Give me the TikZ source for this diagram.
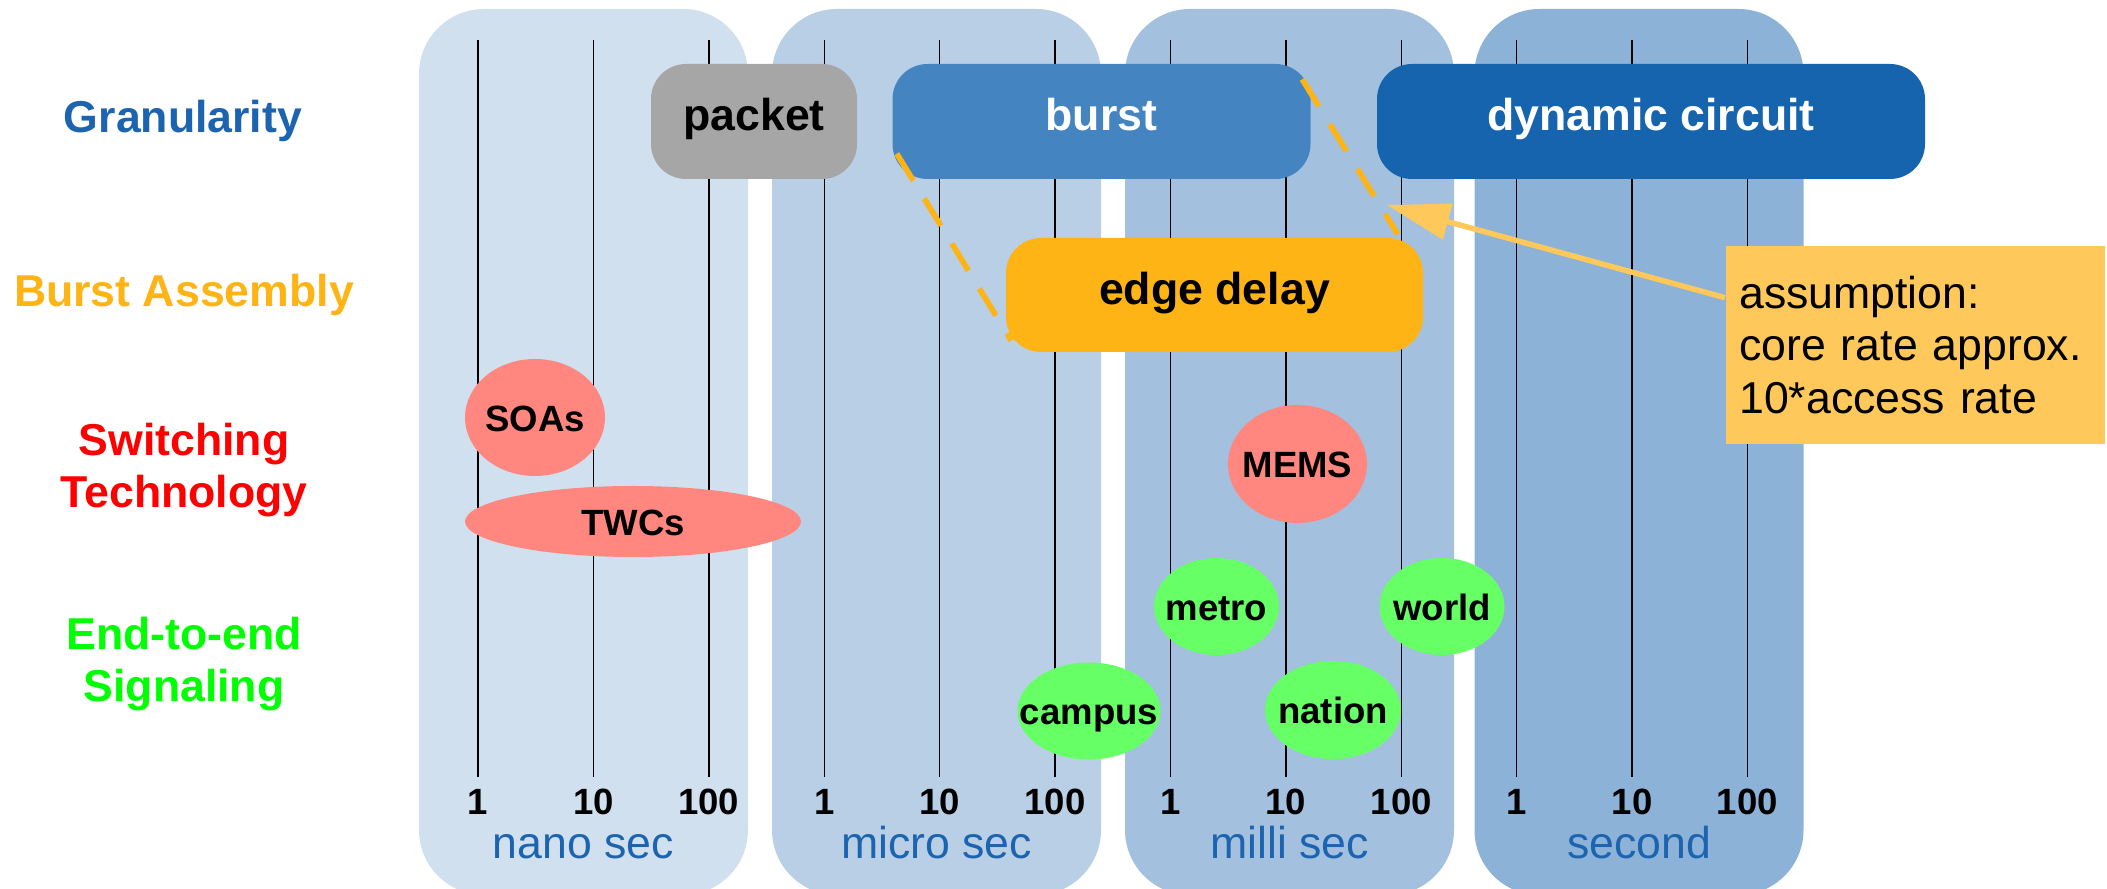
\documentclass[tikz,border=0pt]{standalone}
\usepackage{fontspec}
\setmainfont{Liberation Sans}
\usepackage{tikz}
\usetikzlibrary{shapes}
\usetikzlibrary{arrows.meta}

\definecolor{nanoblue}{RGB}{208,224,239}
\definecolor{microblue}{RGB}{185,207,229}
\definecolor{milliblue}{RGB}{163,192,222}
\definecolor{secblue}{RGB}{140,178,215}
\definecolor{packetgray}{RGB}{166,166,166}
\definecolor{burstblue}{RGB}{68,132,193}
\definecolor{circuitblue}{RGB}{23,100,174}
\definecolor{edgeorange}{RGB}{253,180,20}
\definecolor{noteyellow}{RGB}{255,200,90}
\definecolor{techred}{RGB}{255,135,128}
\definecolor{siggreen}{RGB}{102,255,102}
\definecolor{labelblue}{RGB}{28,100,176}

\newcommand{\bigfont}{\fontsize{12.7}{14.9}\selectfont}
\newcommand{\smallfont}{\fontsize{10.4}{12}\selectfont}
\newcommand{\bubbletext}[1]{\makebox[0pt]{#1}}

\begin{document}
\begin{tikzpicture}[x=0.1mm, y=-0.1mm,
	panel/.style={shape=rectangle, rounded corners=6.5mm, minimum width=32.9mm, minimum height=88.6mm, inner sep=0},
	gran/.style={shape=rectangle, rounded corners=3.5mm, minimum height=11.5mm, inner sep=0, text height=3.2mm, text depth=1.3mm, font=\bigfont\bfseries},
	tech/.style={shape=ellipse, fill=techred, inner sep=0, text height=2.8mm, text depth=0pt, font=\smallfont\bfseries},
	sig/.style={shape=ellipse, fill=siggreen, inner sep=0, minimum width=12.5mm, minimum height=9.7mm, text height=2.8mm, text depth=0pt, font=\smallfont\bfseries},
	rowlabel/.style={align=center, anchor=base, font=\bigfont\bfseries},
	tick/.style={anchor=base, font=\smallfont\bfseries},
	unit/.style={anchor=base, font=\bigfont, text=labelblue},
	dashline/.style={edgeorange, line width=1.6pt, dash pattern=on 9pt off 6pt},
	notearrow/.style={noteyellow, line width=0.55mm, -{Triangle[length=6.3mm, width=3.6mm]}}]
	\clip (0,0) rectangle (2107,889);

	% time scale columns
	\node [panel, fill=nanoblue] (nano) at (583.5,452) {};
	\node [panel, fill=microblue] (micro) at (936.5,452) {};
	\node [panel, fill=milliblue] (milli) at (1289.5,452) {};
	\node [panel, fill=secblue] (second) at (1639,452) {};

	\foreach \p in {0,...,3}
		\foreach \k/\t in {0/1,1/10,2/100} {
			\draw [line width=0.4pt] (478+346.2*\p+115.4*\k, 40) -- (478+346.2*\p+115.4*\k, 777);
			\node [tick] (t\p\k) at (478+346.2*\p+115.4*\k, 815) {\t};
		}

	\node [unit] (nanounit) at (583.5,859) {nano sec};
	\node [unit] (microunit) at (936.5,859) {micro sec};
	\node [unit] (milliunit) at (1289.5,859) {milli sec};
	\node [unit] (secondunit) at (1639,859) {second};

	% row labels (base = last line)
	\node [rowlabel, text=labelblue] (granularity) at (183,133) {Granularity};
	\node [rowlabel, text=edgeorange] (assembly) at (184,306.7) {Burst Assembly};
	\node [rowlabel, text=red] (switching) at (184,508) {Switching\\Technology};
	\node [rowlabel, text=green] (signaling) at (184,702) {End-to-end\\Signaling};

	% switching technology
	\node [tech, minimum width=14mm, minimum height=11.7mm] (soas) at (535,417.5) {\bubbletext{SOAs}};
	\node [tech, minimum width=33.6mm, minimum height=7.1mm] (twcs) at (633,521.5) {\bubbletext{TWCs}};
	\node [tech, minimum width=13.9mm, minimum height=11.8mm] (mems) at (1297.5,464) {\bubbletext{MEMS}};

	% signaling
	\node [sig, minimum width=14.3mm] (campus) at (1089,711) {\bubbletext{campus}};
	\node [sig] (metro) at (1216.5,606.5) {\bubbletext{metro}};
	\node [sig, minimum width=13.6mm, minimum height=9.8mm] (nation) at (1333,710) {\bubbletext{nation}};
	\node [sig] (world) at (1442,606.5) {\bubbletext{world}};

	% granularity
	\node [gran, fill=packetgray, minimum width=20.6mm] (packet) at (754,121.5) {packet};
	\node [gran, fill=burstblue, text=white, minimum width=41.8mm] (burst) at (1101.5,121.5) {burst};
	\node [gran, fill=circuitblue, text=white, minimum width=54.8mm] (circuit) at (1651,121.5) {dynamic circuit};
	\node [gran, fill=edgeorange, minimum width=41.7mm, minimum height=11.4mm] (edge) at (1214.5,295) {edge delay};

	\draw [dashline] ([shift={(5,-26)}]burst.south west) -- ([shift={(6,-12)}]edge.south west);
	\draw [dashline] ([shift={(-9,16)}]burst.north east) -- ([shift={(-26,-3)}]edge.north east);

	% assumption
	\node [fill=noteyellow, anchor=north west, minimum height=19.8mm, text width=35.2mm, inner xsep=1.36mm, align=left, font=\bigfont] (note) at (1725,245) {assumption:\\core rate approx.\\10*access rate};
	\coordinate (tip) at (1387,205);
	\draw [notearrow] ([yshift=4.7mm]note.west) -- (tip);
\end{tikzpicture}
\end{document}
